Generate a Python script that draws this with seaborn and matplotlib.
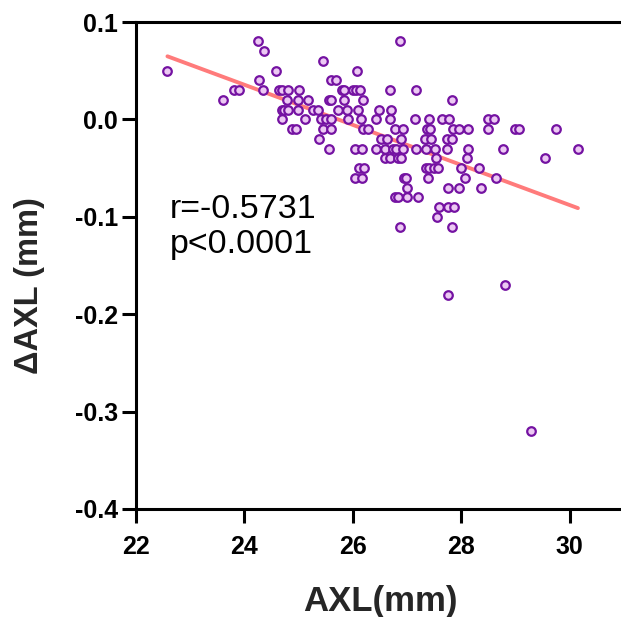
import numpy as np
import pandas as pd
import seaborn as sns
import matplotlib
matplotlib.use('Agg')
import matplotlib.pyplot as plt

# AXL (mm) (top row first)
axl = [
    24.25, 26.87,                                   # 0.08
    24.36,                                          # 0.07
    25.45,                                          # 0.06
    22.58, 24.58, 26.07,                            # 0.05
    24.27, 25.60, 25.68,                            # 0.04
    23.80, 23.90, 24.35, 24.64, 24.69, 24.81, 25.01,
    25.79, 25.84, 26.00, 26.06, 26.13, 26.68, 27.17,  # 0.03
    23.61, 24.78, 24.99, 25.18, 25.56, 25.60, 25.83, 26.18, 27.82,  # 0.02
    24.69, 24.73, 24.81, 24.98, 25.26, 25.35, 25.73, 25.90, 26.10, 26.48, 26.70,  # 0.01
    24.70, 25.11, 25.42, 25.50, 25.59, 25.91, 26.15, 26.42,
    26.68, 27.14, 27.40, 27.65, 27.78, 28.50, 28.60,  # 0.00
    24.88, 24.95, 25.44, 25.59, 26.18, 26.27, 26.77, 26.92, 27.37,
    27.42, 27.84, 27.96, 28.13, 28.49, 28.99, 29.07, 29.74,  # -0.01
    25.37, 26.52, 26.62, 26.89, 27.33, 27.44, 27.74, 27.82,  # -0.02
    25.56, 26.03, 26.17, 26.43, 26.59, 26.74, 26.80, 26.93,
    27.17, 27.35, 27.52, 27.74, 28.12, 28.77, 30.15,  # -0.03
    26.59, 26.68, 26.84, 26.88, 27.53, 28.10, 29.54,  # -0.04
    26.12, 26.20, 27.35, 27.41, 27.49, 27.57, 27.99, 28.33,  # -0.05
    26.04, 26.17, 26.94, 26.98, 27.39, 28.07, 28.64,  # -0.06
    27.00, 27.75, 27.96, 28.36,                     # -0.07
    26.77, 26.83, 26.99, 27.20,                     # -0.08
    27.58, 27.75, 27.86,                            # -0.09
    27.56,                                          # -0.10
    26.86, 27.83,                                   # -0.11
    28.80,                                          # -0.17
    27.76,                                          # -0.18
    29.28,                                          # -0.32
]

# change in AXL (mm), same order
delta_axl = [
    0.08, 0.08,
    0.07,
    0.06,
    0.05, 0.05, 0.05,
    0.04, 0.04, 0.04,
    0.03, 0.03, 0.03, 0.03, 0.03, 0.03, 0.03,
    0.03, 0.03, 0.03, 0.03, 0.03, 0.03, 0.03,
    0.02, 0.02, 0.02, 0.02, 0.02, 0.02, 0.02, 0.02, 0.02,
    0.01, 0.01, 0.01, 0.01, 0.01, 0.01, 0.01, 0.01, 0.01, 0.01, 0.01,
    0.00, 0.00, 0.00, 0.00, 0.00, 0.00, 0.00, 0.00,
    0.00, 0.00, 0.00, 0.00, 0.00, 0.00, 0.00,
    -0.01, -0.01, -0.01, -0.01, -0.01, -0.01, -0.01, -0.01, -0.01,
    -0.01, -0.01, -0.01, -0.01, -0.01, -0.01, -0.01, -0.01,
    -0.02, -0.02, -0.02, -0.02, -0.02, -0.02, -0.02, -0.02,
    -0.03, -0.03, -0.03, -0.03, -0.03, -0.03, -0.03, -0.03,
    -0.03, -0.03, -0.03, -0.03, -0.03, -0.03, -0.03,
    -0.04, -0.04, -0.04, -0.04, -0.04, -0.04, -0.04,
    -0.05, -0.05, -0.05, -0.05, -0.05, -0.05, -0.05, -0.05,
    -0.06, -0.06, -0.06, -0.06, -0.06, -0.06, -0.06,
    -0.07, -0.07, -0.07, -0.07,
    -0.08, -0.08, -0.08, -0.08,
    -0.09, -0.09, -0.09,
    -0.10,
    -0.11, -0.11,
    -0.17,
    -0.18,
    -0.32,
]

x_ticks = [22, 24, 26, 28, 30]
y_ticks = [-0.4, -0.3, -0.2, -0.1, 0.0, 0.1]
stats_text = ['r=-0.5731', 'p<0.0001']

df = pd.DataFrame({'AXL': axl, 'dAXL': delta_axl})

sns.set_style('ticks')
plt.rcParams['font.family'] = ['Liberation Sans', 'DejaVu Sans']
plt.rcParams['axes.unicode_minus'] = False
plt.rcParams['text.color'] = 'black'
plt.rcParams['xtick.color'] = 'black'
plt.rcParams['ytick.color'] = 'black'

fig = plt.figure(figsize=(6.21, 6.17), dpi=100)
ax = fig.add_axes([136 / 621, 108 / 617, 488 / 621, 487 / 617])

sns.regplot(data=df, x='AXL', y='dAXL', scatter=False, ci=None, truncate=True,
            color='#ff7b7b', line_kws={'linewidth': 2.8}, ax=ax)
sns.scatterplot(data=df, x='AXL', y='dAXL', s=38, color='#ecc9f3',
                edgecolor='#7412a2', linewidth=1.6, ax=ax, zorder=3)

ax.set_xlim(22, 31)
ax.set_ylim(-0.4, 0.1)
ax.set_xticks(x_ticks)
ax.set_yticks(y_ticks)
ax.set_yticklabels([f'{v:.1f}' for v in y_ticks])

for side in ['left', 'bottom', 'top']:
    ax.spines[side].set_linewidth(2.2)
    ax.spines[side].set_color('black')
ax.spines['right'].set_visible(False)
ax.tick_params(axis='both', direction='out', length=10, width=2.2)
ax.tick_params(axis='x', pad=9)
ax.tick_params(axis='y', pad=3)
for lab in ax.get_xticklabels() + ax.get_yticklabels():
    lab.set_fontweight('bold')
    lab.set_fontsize(18)

ax.set_xlabel('AXL(mm)', fontsize=25, fontweight='bold')
ax.set_ylabel('ΔAXL (mm)', fontsize=23.5, fontweight='bold')
ax.xaxis.label.set_va('center')
ax.yaxis.label.set_va('center')
ax.xaxis.set_label_coords(0.5, -92 / 487)
ax.yaxis.set_label_coords(-106 / 488, 223 / 487)

ax.text(22.62, -0.092, stats_text[0], fontsize=24.5, va='center', ha='left')
ax.text(22.62, -0.128, stats_text[1], fontsize=24.5, va='center', ha='left')

fig.savefig('out.png', dpi=100)
